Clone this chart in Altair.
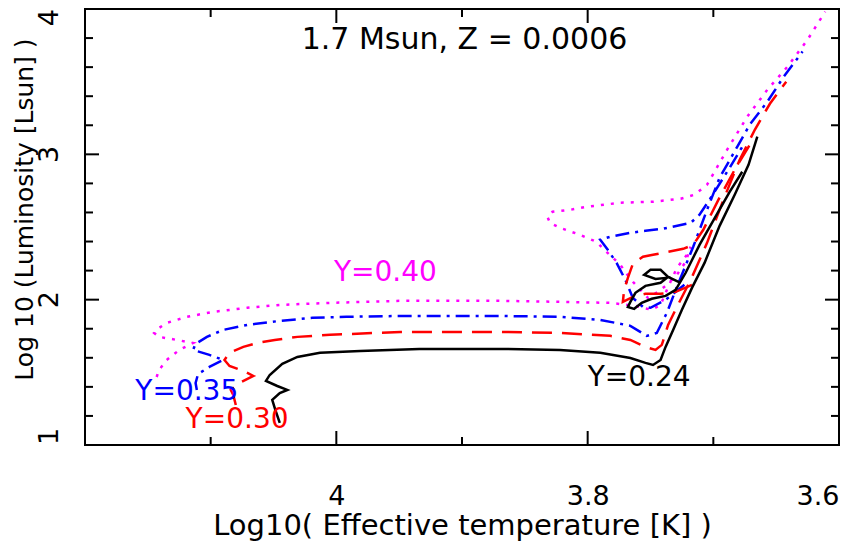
import altair as alt
import pandas as pd

# ---------------- data (log Teff, log L) ----------------
black_a_x = [4.045, 4.048, 4.051, 4.045, 4.039, 4.047, 4.056, 4.053, 4.043, 4.031, 4.013, 3.981, 3.934,
             3.870, 3.822, 3.790, 3.766, 3.754, 3.748, 3.742, 3.738, 3.732, 3.725, 3.717, 3.707, 3.695,
             3.683, 3.672, 3.665]
black_a_y = [1.152, 1.227, 1.310, 1.358, 1.379, 1.406, 1.441, 1.482, 1.558, 1.606, 1.634, 1.647, 1.661,
             1.661, 1.654, 1.634, 1.599, 1.565, 1.551, 1.585, 1.675, 1.792, 1.930, 2.081, 2.253, 2.508,
             2.722, 2.928, 3.121]
black_b_x = [3.726, 3.736, 3.742, 3.750, 3.755, 3.746, 3.737, 3.742, 3.754, 3.762, 3.766, 3.768, 3.763,
             3.757, 3.749, 3.738, 3.730, 3.722, 3.711, 3.696, 3.687, 3.677]
black_b_y = [2.116, 2.157, 2.205, 2.205, 2.171, 2.143, 2.150, 2.116, 2.095, 2.047, 1.985, 1.950, 1.937,
             1.978, 2.006, 2.026, 2.067, 2.185, 2.377, 2.605, 2.742, 2.880]

red_a_x = [4.080, 4.082, 4.084, 4.077, 4.066, 4.074, 4.085, 4.089, 4.085, 4.074, 4.063, 4.049, 4.031,
           4.005, 3.949, 3.870, 3.822, 3.782, 3.766, 3.754, 3.746, 3.741, 3.736, 3.729, 3.718, 3.705,
           3.692, 3.679, 3.667, 3.655, 3.642]
red_a_y = [1.275, 1.344, 1.379, 1.427, 1.475, 1.510, 1.544, 1.585, 1.634, 1.675, 1.702, 1.723, 1.744,
           1.758, 1.778, 1.778, 1.771, 1.751, 1.723, 1.675, 1.654, 1.689, 1.826, 1.950, 2.136, 2.391,
           2.687, 2.963, 3.169, 3.348, 3.500]
red_b_x = [3.717, 3.730, 3.742, 3.754, 3.764, 3.772, 3.771, 3.768, 3.764, 3.756, 3.748, 3.736, 3.724,
           3.716, 3.708, 3.696, 3.683, 3.671]
red_b_y = [2.102, 2.054, 2.040, 2.040, 2.019, 1.985, 2.067, 2.150, 2.247, 2.295, 2.309, 2.329, 2.350,
           2.377, 2.481, 2.687, 2.894, 3.066]

blue_a_x = [4.111, 4.112, 4.110, 4.101, 4.090, 4.101, 4.114, 4.112, 4.103, 4.090, 4.071, 4.045, 4.019,
            3.992, 3.949, 3.870, 3.822, 3.790, 3.766, 3.753, 3.745, 3.737, 3.729, 3.716, 3.705, 3.695,
            3.681, 3.671, 3.657, 3.644, 3.629]
blue_a_y = [1.379, 1.427, 1.489, 1.537, 1.585, 1.620, 1.654, 1.696, 1.744, 1.792, 1.826, 1.854, 1.875,
            1.882, 1.888, 1.888, 1.882, 1.861, 1.820, 1.751, 1.771, 1.909, 2.088, 2.364, 2.618, 2.839,
            3.052, 3.204, 3.362, 3.534, 3.707]
blue_b_x = [3.723, 3.738, 3.750, 3.756, 3.764, 3.770, 3.777, 3.784, 3.790, 3.782, 3.766, 3.754, 3.740,
            3.718, 3.711, 3.701, 3.688, 3.675]
blue_b_y = [2.102, 1.999, 1.944, 1.950, 2.012, 2.136, 2.253, 2.343, 2.412, 2.433, 2.460, 2.474, 2.488,
            2.529, 2.584, 2.715, 2.894, 3.080]

mag_x = [4.143, 4.141, 4.135, 4.125, 4.114, 4.127, 4.141, 4.145, 4.141, 4.135, 4.119, 4.098, 4.071,
         4.045, 4.005, 3.949, 3.870, 3.822, 3.782, 3.762, 3.749, 3.742, 3.737, 3.729, 3.721, 3.718,
         3.722, 3.729, 3.737, 3.744, 3.752, 3.758, 3.764, 3.769, 3.774, 3.785, 3.793, 3.806, 3.822,
         3.830, 3.832, 3.828, 3.814, 3.801, 3.774, 3.748, 3.726, 3.715, 3.705, 3.689, 3.673, 3.657,
         3.641, 3.625, 3.611]
mag_y = [1.468, 1.517, 1.585, 1.654, 1.702, 1.723, 1.744, 1.771, 1.806, 1.840, 1.882, 1.916, 1.944,
         1.964, 1.978, 1.992, 1.992, 1.985, 1.978, 1.957, 1.930, 1.964, 2.067, 2.219, 2.309, 2.364,
         2.260, 2.171, 2.102, 2.054, 2.012, 2.067, 2.123, 2.178, 2.240, 2.329, 2.398, 2.446, 2.494,
         2.529, 2.570, 2.605, 2.618, 2.639, 2.667, 2.674, 2.694, 2.722, 2.791, 3.032, 3.259, 3.445,
         3.603, 3.789, 3.982]

label_text = ["Y=0.40", "Y=0.35", "Y=0.30", "Y=0.24"]
label_x = [3.961, 4.119, 4.079, 3.759]
label_y = [2.185, 1.365, 1.172, 1.461]
label_color = ["#ff00ff", "#0000ff", "#ff0000", "#000000"]

title_text = ["1.7 Msun, Z = 0.0006"]
title_x = [3.898]
title_y = [3.789]

x_major = [4.0, 3.8, 3.6]
x_minor = [4.1, 3.9, 3.7]
y_major = [1, 2, 3, 4]
y_major_labels = ["1", "2", "3", "4"]
y_minor = [1.2, 1.4, 1.6, 1.8, 2.2, 2.4, 2.6, 2.8, 3.2, 3.4, 3.6, 3.8]

# ---------------- build tables ----------------
def seg_rows(xs, ys, seg):
    return [{"x": a, "y": b, "seg": seg, "i": k} for k, (a, b) in enumerate(zip(xs, ys))]

black = pd.DataFrame(seg_rows(black_a_x, black_a_y, "a") + seg_rows(black_b_x, black_b_y, "b"))
red = pd.DataFrame(seg_rows(red_a_x, red_a_y, "a") + seg_rows(red_b_x, red_b_y, "b"))
blue = pd.DataFrame(seg_rows(blue_a_x, blue_a_y, "a") + seg_rows(blue_b_x, blue_b_y, "b"))
mag = pd.DataFrame(seg_rows(mag_x, mag_y, "a"))
labels = pd.DataFrame({"x": label_x, "y": label_y, "t": label_text, "c": label_color})
titles = pd.DataFrame({"x": title_x, "y": title_y, "t": title_text})
ylab = pd.DataFrame({"v": y_major, "t": y_major_labels})

W, H = 754, 436
FONT = "DejaVu Sans"
FS = 27

xs = alt.Scale(domain=[3.6, 4.2], reverse=True, nice=False, zero=False)
ys = alt.Scale(domain=[1, 4], nice=False, zero=False)

xaxis = alt.Axis(values=x_major, format="~g", title="Log10( Effective temperature [K] )",
                 labelFontSize=FS, titleFontSize=29, labelFont=FONT, titleFont=FONT,
                 labelPadding=38, titleY=80, titleBaseline="middle", titleFontWeight="normal",
                 labelColor="black", titleColor="black", ticks=False, domain=False, grid=False)
yaxis = alt.Axis(values=y_major, labels=False, title="Log 10 (Luminosity [Lsun] )",
                 titleFontSize=25, titleFont=FONT,
                 titleAngle=270, titleX=-61, titleY=200, titleAlign="center", titleBaseline="middle",
                 titleFontWeight="normal", titleColor="black",
                 ticks=False, domain=False, grid=False)


def track(df, color, dash=None):
    kw = dict(color=color, strokeWidth=2.5, clip=True)
    if dash is not None:
        kw["strokeDash"] = dash
    return alt.Chart(df).mark_line(**kw).encode(
        x=alt.X("x:Q", scale=xs, axis=xaxis),
        y=alt.Y("y:Q", scale=ys, axis=yaxis),
        detail="seg:N",
        order="i:Q",
    )


def xticks(vals, length):
    d = pd.DataFrame({"v": vals})
    bottom = alt.Chart(d).mark_rule(color="black", strokeWidth=2).encode(
        x=alt.X("v:Q", scale=xs, axis=xaxis), y=alt.value(H), y2=alt.value(H - length))
    top = alt.Chart(d).mark_rule(color="black", strokeWidth=2).encode(
        x=alt.X("v:Q", scale=xs, axis=xaxis), y=alt.value(0), y2=alt.value(length))
    return [bottom, top]


def yticks(vals, length):
    d = pd.DataFrame({"v": vals})
    left = alt.Chart(d).mark_rule(color="black", strokeWidth=2).encode(
        y=alt.Y("v:Q", scale=ys, axis=yaxis), x=alt.value(0), x2=alt.value(length))
    right = alt.Chart(d).mark_rule(color="black", strokeWidth=2).encode(
        y=alt.Y("v:Q", scale=ys, axis=yaxis), x=alt.value(W), x2=alt.value(W - length))
    return [left, right]


def ylabels(df, align):
    return alt.Chart(df).mark_text(font=FONT, fontSize=FS, angle=270, align=align,
                                   baseline="bottom", color="black").encode(
        y=alt.Y("v:Q", scale=ys, axis=yaxis), x=alt.value(-21), text="t:N")


ylab_mid = ylabels(ylab[(ylab.v > y_major[0]) & (ylab.v < y_major[-1])], "center")
ylab_bot = ylabels(ylab[ylab.v == y_major[0]], "left")
ylab_top = ylabels(ylab[ylab.v == y_major[-1]], "right")

text = alt.Chart(labels).mark_text(font=FONT, fontSize=28, align="center", baseline="middle").encode(
    x=alt.X("x:Q", scale=xs, axis=xaxis),
    y=alt.Y("y:Q", scale=ys, axis=yaxis),
    text="t:N",
    color=alt.Color("c:N", scale=None),
)
title = alt.Chart(titles).mark_text(font=FONT, fontSize=30, align="center", baseline="middle",
                                    color="black").encode(
    x=alt.X("x:Q", scale=xs, axis=xaxis),
    y=alt.Y("y:Q", scale=ys, axis=yaxis),
    text="t:N",
)

layers = [
    track(mag, "#ff00ff", [3, 7]),
    track(blue, "#0000ff", [14, 6, 3, 6]),
    track(red, "#ff0000", [20, 10]),
    track(black, "#000000"),
] + xticks(x_major, 14) + xticks(x_minor, 8) + yticks(y_major, 14) + yticks(y_minor, 8) + \
    [text, title, ylab_mid, ylab_bot, ylab_top]

chart = alt.layer(*layers).properties(
    width=W, height=H,
    padding={"left": 77, "top": 1, "right": 13, "bottom": 100},
    autosize=alt.AutoSizeParams(type="none"),
    background="white",
).configure_view(stroke="black", strokeWidth=2)

chart.save("out.html", embed_options={"renderer": "svg", "actions": False})
